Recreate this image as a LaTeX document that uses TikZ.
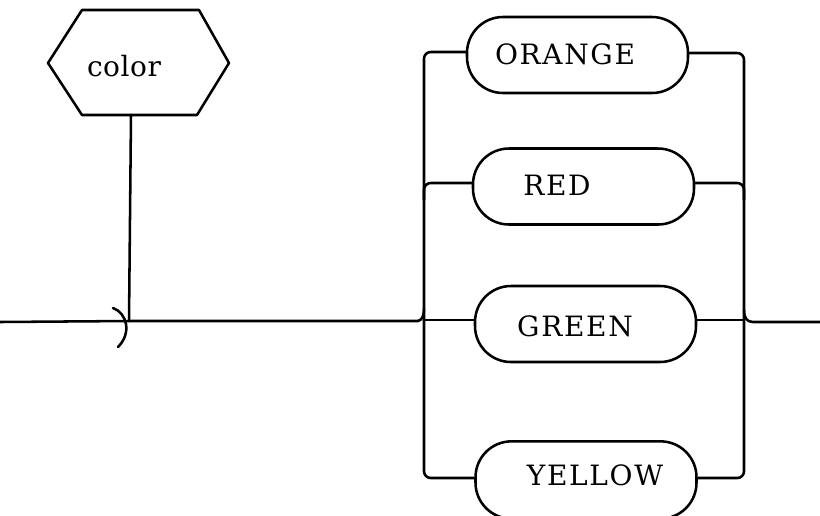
\documentclass[tikz,border=0pt]{standalone}
\usepackage{fontspec}
\setmainfont{DejaVu Serif}
\newfontfamily\capsfont[LetterSpace=6]{DejaVu Serif}
\newfontfamily\lowfont[LetterSpace=2]{DejaVu Serif}
\begin{document}
\begin{tikzpicture}[x=0.75pt,y=-0.75pt,
  ln/.style={line width=1.9pt,line cap=round,line join=round},
  pill/.style={ln,draw,rectangle,rounded corners=27pt,minimum width=165.75pt,minimum height=57pt,inner sep=0pt},
  lbl/.style={font=\capsfont\fontsize{21}{24}\selectfont,inner sep=0pt,anchor=base},
  rc/.style={rounded corners=5pt}]
\useasboundingbox (0,0) rectangle (820,515);
\clip (0,0) rectangle (820,515);
% hexagon
\coordinate (h1) at (48,63);
\coordinate (h2) at (82,10);
\coordinate (h3) at (199,10);
\coordinate (h4) at (229,63);
\coordinate (h5) at (197,115);
\coordinate (h6) at (82,115);
\draw[ln] (h1) -- (h2) -- (h3) -- (h4) -- (h5) -- (h6) -- cycle;
\node[font=\lowfont\fontsize{21}{24}\selectfont,inner sep=0pt,anchor=base] (colorT) at (124,76) {color};
\coordinate (hexb) at (131,115);
\coordinate (join) at (129,321);
% main line and branch
\coordinate (west) at (0,322);
\coordinate (lj) at (418,321);
\draw[ln] (hexb) -- (join);
\draw[ln] (west) -- (join) -- (lj);
\draw[ln] (113,308) .. controls (127,313) and (132,333) .. (118,347);
% pills
\node[pill] (orange) at (577.5,55) {};
\node[pill] (red) at (583.5,186.5) {};
\node[pill] (green) at (585.5,324) {};
\node[pill,minimum height=58pt] (yellow) at (586,480) {};
\node[lbl] (orangeT) at (565,64) {ORANGE};
\node[lbl] (redT) at (557,195) {RED};
\node[lbl] (greenT) at (575,336) {GREEN};
\node[lbl] (yellowT) at (595,485) {YELLOW};
% left bracket
\draw[ln,rc] (orange.west |- 0,52) -- (424,52) -- (424,478) -- (yellow.west |- 0,478);
\draw[ln,rc] (red.west |- 0,183) -- (424,183) -- (424,200);
\draw[ln] (lj) .. controls (422,320) and (424,316) .. (424,309);
\draw[ln] (424,320) -- (green.west |- 0,320);
% right bracket
\draw[ln,rc] (orange.east |- 0,53) -- (744,53) -- (744,478) -- (yellow.east |- 0,478);
\draw[ln,rc] (red.east |- 0,183) -- (744,183) -- (744,200);
\draw[ln] (green.east |- 0,320) -- (744,320);
\coordinate (east) at (820,322);
\draw[ln] (744,310) .. controls (744,318) and (747,322) .. (753,322) -- (east);
\end{tikzpicture}
\end{document}
